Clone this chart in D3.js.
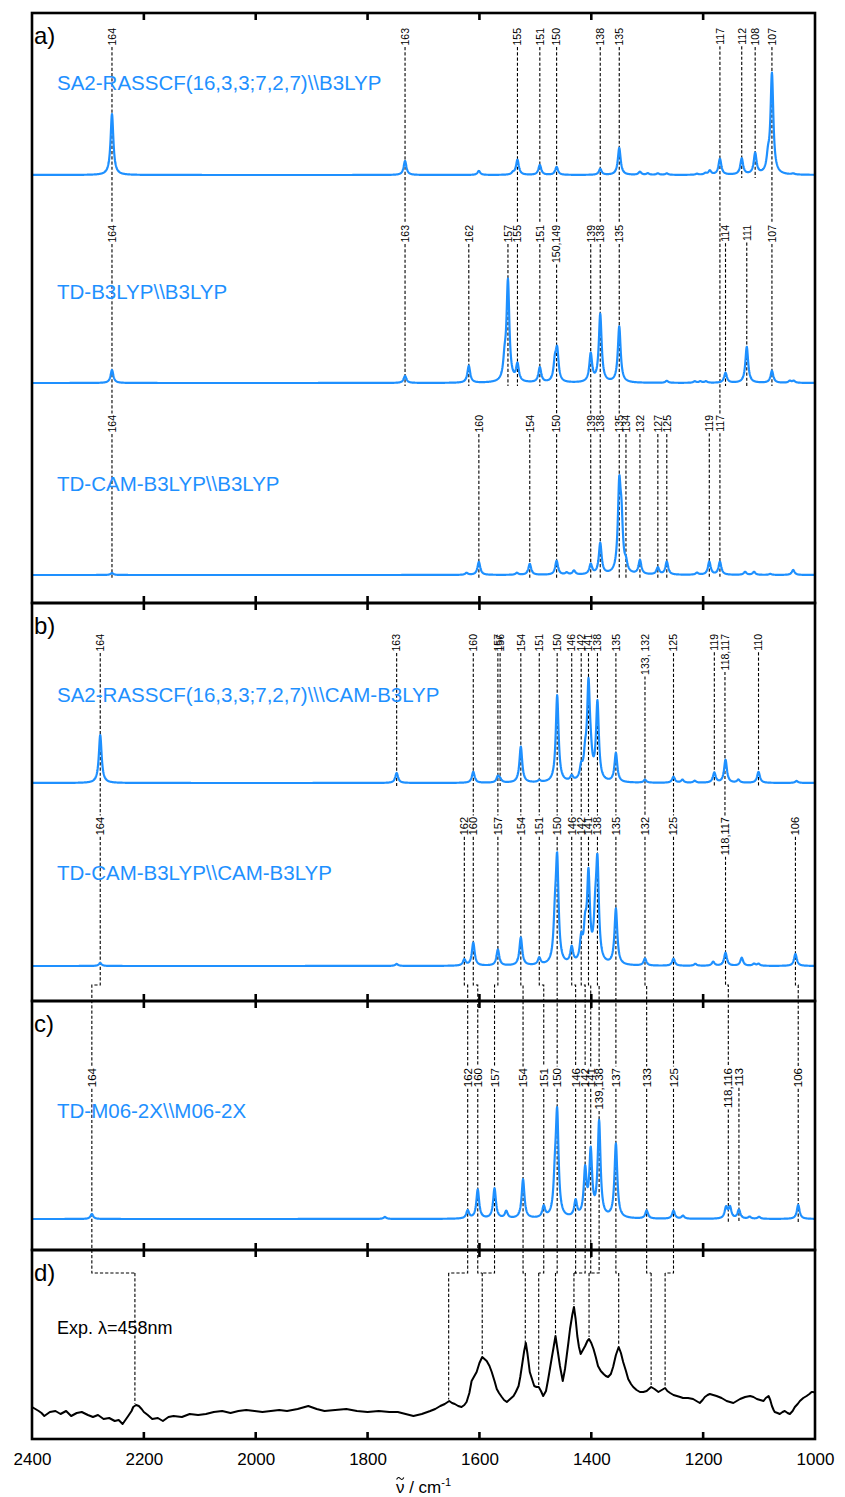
<!DOCTYPE html>
<html>
<head>
<meta charset="utf-8">
<script src="https://cdn.jsdelivr.net/npm/d3@7"></script>
<style>
  body { margin: 0; background: #fff; }
  svg { display: block; }
  text { font-family: "Liberation Sans", Arial, Helvetica, sans-serif; }
</style>
</head>
<body>
<svg id="chart" width="845" height="1497"></svg>
<script>
// ---------- axis ----------
const xTicks = [2400, 2200, 2000, 1800, 1600, 1400, 1200, 1000];
const panelNames = ["a)", "b)", "c)", "d)"];

// ---------- method titles ----------
const titleA1 = "SA2-RASSCF(16,3,3;7,2,7)\\\\B3LYP";
const titleA2 = "TD-B3LYP\\\\B3LYP";
const titleA3 = "TD-CAM-B3LYP\\\\B3LYP";
const titleB1 = "SA2-RASSCF(16,3,3;7,2,7)\\\\\\CAM-B3LYP";
const titleB2 = "TD-CAM-B3LYP\\\\CAM-B3LYP";
const titleC  = "TD-M06-2X\\\\M06-2X";
const titleD  = "Exp. \u03bb=458nm";

// ---------- computed Raman lines: [wavenumber / cm-1, relative intensity] ----------
const peaksA1 = [[2257,61],[1733,14],[1601,4],[1540,2],[1532,15],[1492,10],[1462,8],[1384,6],[1350,27],
  [1313,3],[1299,1.5],[1281,1.5],[1265,1.5],[1211,1],[1196,1.5],[1188,4],[1170,16],[1131,16],[1107,21],
  [1084,14],[1077,100],[1039,1]];
const peaksA2 = [[2257,13],[1733,7],[1619,17],[1555,18],[1549,100],[1532,17],[1492,15],[1465,18],[1461,30],
  [1401,28],[1384,68],[1350,56],[1265,2],[1215,1.5],[1205,1.5],[1195,1.5],[1160,10],[1122,36],[1077,12],
  [1045,2],[1038,2]];
const peaksA3 = [[2257,2],[1623,2],[1601,13],[1533,2],[1510,11],[1462,14],[1444,2],[1431,4],[1401,10],
  [1384,31],[1350,82],[1346,45],[1338,8],[1313,14],[1281,7],[1265,13],[1211,2],[1189,13],[1170,13],
  [1125,3],[1109,3],[1080,1],[1039,5]];
const peaksB1 = [[2278,48],[1748,10],[1611,11],[1567,6],[1563,3],[1526,36],[1493,2],[1461,87],[1435,5],
  [1418,12],[1411,20],[1405,92],[1401,15],[1389,78],[1356,29],[1304,3],[1253,6],[1237,3],[1215,2],
  [1180,10],[1160,23],[1137,3],[1101,11],[1033,2]];
const peaksB2 = [[2278,3],[1748,2],[1627,6],[1611,23],[1567,16],[1526,28],[1493,7],[1465,35],[1461,100],
  [1435,16],[1418,22],[1411,30],[1405,85],[1393,35],[1389,95],[1356,56],[1304,7],[1253,7],[1214,2],
  [1182,4],[1160,13],[1131,8],[1109,2],[1101,2],[1035,12]];
const peaksC  = [[2293,5],[1769,2],[1621,8],[1603,29],[1573,30],[1552,7],[1522,39],[1485,11],[1465,30],
  [1461,100],[1428,16],[1411,46],[1401,64],[1386,95],[1356,74],[1301,8],[1253,8],[1236,3],[1159,11],
  [1152,11],[1136,9],[1117,2],[1100,2],[1030,14]];

// ---------- mode assignments: [label, wavenumber / cm-1] ----------
const labelsA1 = [["164",2257],["163",1733],["155",1532],["151",1492],["150",1462],["138",1384],["135",1350],
  ["117",1170],["112",1131],["108",1107],["107",1077]];
const labelsA2 = [["164",2257],["163",1733],["162",1619],["157",1549],["155",1532],["151",1492],["150,149",1462],
  ["139",1401],["138",1384],["135",1350],["114",1160],["111",1122],["107",1077]];
const labelsA3 = [["164",2257],["160",1601],["154",1510],["150",1462],["139",1401],["138",1384],["135",1350],
  ["134",1338],["132",1313],["127",1281],["125",1265],["119",1189],["117",1170]];
const labelsB1 = [["164",2278],["163",1748],["160",1611],["157",1567],["156",1563],["154",1526],["151",1493],
  ["150",1461],["146",1435],["142",1418],["141",1405],["138",1389],["135",1356],["133, 132",1304],
  ["125",1253],["119",1180],["118,117",1161],["110",1101]];
const labelsB2 = [["164",2278],["162",1627],["160",1611],["157",1567],["154",1526],["151",1493],["150",1461],
  ["146",1435],["142",1418],["141",1405],["138",1389],["135",1356],["132",1304],["125",1253],
  ["118,117",1160],["106",1035]];
const labelsC  = [["164",2293],["162",1621],["160",1603],["157",1573],["154",1522],["151",1485],["150",1461],
  ["146",1428],["142",1411],["141",1401],["139,138",1386],["137",1356],["133",1301],["125",1253],
  ["118,116",1155],["113",1136],["106",1030]];

// correspondence CAM-B3LYP (b) -> M06-2X (c)
const linksBC = [["164","164"],["162","162"],["160","160"],["157","157"],["154","154"],["151","151"],
  ["150","150"],["146","146"],["142","142"],["141","141"],["138","139,138"],["135","137"],["132","133"],
  ["125","125"],["118,117","118,116"],["106","106"]];
// correspondence M06-2X (c) -> experimental band / cm-1
const linksCD = [["164",2216],["162",1655],["160",1595],["157",1595],["154",1518],["151",1494],["150",1464],
  ["146",1431],["142",1431],["141",1404],["139,138",1404],["137",1351],["133",1293],["125",1268]];

// ---------- experimental spectrum: [wavenumber / cm-1, intensity] ----------
const expSpectrum = [[2400,32],[2394,30],[2388,28],[2383,26],[2378,23],[2368,27],[2358,28],[2349,25],[2339,28],
  [2330,23],[2320,26],[2311,27],[2300,24],[2291,22],[2282,24],[2272,20],[2262,21],[2252,18],[2245,19],[2238,15],
  [2233,19],[2228,23],[2222,28],[2219,32],[2214,34],[2209,33],[2204,30],[2200,27],[2193,24],[2185,20],
  [2175,21],[2166,18],[2156,22],[2147,23],[2132,22],[2118,25],[2103,24],[2089,25],[2075,27],[2060,28],
  [2045,26],[2031,28],[2017,29],[2002,28],[1988,27],[1973,28],[1958,29],[1944,28],[1925,30],[1906,33],
  [1891,30],[1877,28],[1858,29],[1838,30],[1819,28],[1800,27],[1780,28],[1761,27],[1746,27],[1732,25],
  [1718,23],[1703,25],[1688,28],[1679,30],[1670,33],[1662,35],[1654,38],[1649,36],[1644,35],[1638,33],
  [1632,32],[1627,34],[1623,37],[1618,46],[1614,58],[1609,63],[1605,67],[1600,76],[1595,82],[1591,80],
  [1587,78],[1582,73],[1578,67],[1573,58],[1569,50],[1565,46],[1560,42],[1556,39],[1551,37],[1545,40],
  [1539,43],[1535,47],[1530,53],[1527,62],[1524,73],[1520,88],[1517,96],[1514,85],[1510,67],[1506,60],
  [1502,53],[1498,52],[1494,52],[1490,48],[1486,43],[1481,48],[1477,60],[1474,70],[1471,80],[1467,93],
  [1464,103],[1460,88],[1456,73],[1453,64],[1451,58],[1447,70],[1444,83],[1441,96],[1438,110],[1434,124],
  [1431,132],[1428,120],[1425,103],[1422,92],[1419,85],[1415,89],[1411,93],[1407,98],[1404,100],[1400,96],
  [1396,90],[1392,82],[1388,73],[1383,68],[1378,65],[1374,63],[1370,62],[1365,65],[1361,72],[1356,84],
  [1351,92],[1347,86],[1343,77],[1338,68],[1334,60],[1329,55],[1325,52],[1319,49],[1313,47],[1307,47],
  [1301,48],[1297,50],[1293,52],[1287,50],[1280,47],[1274,49],[1268,51],[1264,48],[1259,46],[1253,44],
  [1247,43],[1241,42],[1236,41],[1227,41],[1218,40],[1212,38],[1206,36],[1201,39],[1197,42],[1192,44],
  [1188,45],[1182,44],[1176,43],[1167,41],[1158,38],[1152,37],[1146,36],[1140,38],[1134,40],[1125,42],
  [1116,43],[1110,42],[1104,40],[1098,39],[1092,38],[1088,41],[1083,43],[1080,39],[1077,33],[1074,29],
  [1072,27],[1067,26],[1063,25],[1058,27],[1054,28],[1049,26],[1045,25],[1040,28],[1036,32],[1031,35],
  [1027,38],[1021,41],[1015,43],[1010,45],[1006,47],[1003,47],[1000,46]];

// ---------- layout ----------
const X0 = 32, X1 = 815;
const panelY = [13, 603, 1001, 1250, 1439];
const LINE_W = 3.0;   // HWHM of the Lorentzian line shape / cm-1
const BLUE = "#1e90ff";

const rows = [
  { panel: 0, title: titleA1, peaks: peaksA1, labels: labelsA1, base: 175, labelTop: 28,   titleY: 90,   fs: 10.5 },
  { panel: 0, title: titleA2, peaks: peaksA2, labels: labelsA2, base: 383, labelTop: 225,  titleY: 299,  fs: 10.5 },
  { panel: 0, title: titleA3, peaks: peaksA3, labels: labelsA3, base: 575, labelTop: 415,  titleY: 491,  fs: 10.5 },
  { panel: 1, title: titleB1, peaks: peaksB1, labels: labelsB1, base: 783, labelTop: 634,  titleY: 702,  fs: 10.5 },
  { panel: 1, title: titleB2, peaks: peaksB2, labels: labelsB2, base: 966, labelTop: 817,  titleY: 880,  fs: 11 },
  { panel: 2, title: titleC,  peaks: peaksC,  labels: labelsC,  base: 1219, labelTop: 1068, titleY: 1118, fs: 11.5 }
];
const KINK_BC = 985, KINK_CD = 1273;

const svg = d3.select("#chart");
const x = d3.scaleLinear().domain([2400, 1000]).range([X0, X1]);
rows.forEach(r => { r.y = d3.scaleLinear().domain([0, 100]).range([r.base, r.base - 100]); });
const yExp = d3.scaleLinear().domain([0, 100]).range([panelY[4], panelY[4] - 100]);

// Lorentzian-broadened stick spectrum
const grid = d3.range(2400, 999.75, -0.5);
function broaden(peaks) {
  const g2 = LINE_W * LINE_W;
  return grid.map(w => [w, d3.sum(peaks, p => p[1] * g2 / ((w - p[0]) ** 2 + g2))]);
}
const expByWn = expSpectrum.slice().sort((a, b) => a[0] - b[0]);
function expAt(w) {
  const i = d3.bisector(d => d[0]).left(expByWn, w);
  if (i <= 0) return expByWn[0][1];
  if (i >= expByWn.length) return expByWn[expByWn.length - 1][1];
  const a = expByWn[i - 1], b = expByWn[i];
  return a[1] + (b[1] - a[1]) * (w - a[0]) / (b[0] - a[0]);
}

const gLines = svg.append("g").attr("fill", "none").attr("stroke", "#000")
  .attr("stroke-width", 1.1).attr("stroke-dasharray", "3.2,2");
const gSpec = svg.append("g");
const gText = svg.append("g");

// ---------- mode labels (rotated) ----------
rows.forEach(r => {
  r.lab = r.labels.map(([t, w]) => {
    const el = gText.append("text")
      .attr("transform", `translate(${x(w)},${r.labelTop}) rotate(-90)`)
      .attr("text-anchor", "end").attr("dy", "0.36em")
      .attr("font-size", r.fs).attr("fill", "#000").text(t);
    const len = el.node().getComputedTextLength();
    return { t, w, nums: t.split(/[, ]+/).filter(s => s), top: r.labelTop - 1.5, bottom: r.labelTop + len + 1.5 };
  });
});

// ---------- dashed assignment lines ----------
const shares = (a, b) => a.nums.some(n => b.nums.includes(n));
const expTargets = new Set();
rows.forEach((r, ri) => {
  r.lab.forEach(L => {
    const xs = x(L.w);
    // continuation to the next row of the same panel that carries this mode
    let target = null;
    for (let k = ri + 1; k < rows.length && rows[k].panel === r.panel; k++) {
      const m = rows[k].lab.find(o => shares(L, o));
      if (m) { target = m; break; }
    }
    const path = d3.path();
    path.moveTo(xs, L.bottom);
    const bc = linksBC.find(l => l[0] === L.t);
    const cd = linksCD.find(l => l[0] === L.t);
    if (target) {
      path.lineTo(xs, target.top);
    } else if (r.panel === 1 && bc) {
      const cLab = rows[5].lab.find(o => o.t === bc[1]);
      path.lineTo(xs, KINK_BC);
      path.lineTo(x(cLab.w), KINK_BC);
      path.lineTo(x(cLab.w), cLab.top);
    } else if (r.panel === 2 && cd) {
      path.lineTo(xs, KINK_CD);
      path.lineTo(x(cd[1]), KINK_CD);
      expTargets.add(cd[1]);
    } else {
      path.lineTo(xs, r.base + 3);
    }
    gLines.append("path").attr("d", path.toString());
  });
});
// one drop line per experimental band
expTargets.forEach(we => {
  gLines.append("line").attr("x1", x(we)).attr("x2", x(we))
    .attr("y1", KINK_CD).attr("y2", yExp(expAt(we)) - 2);
});

// ---------- computed spectra ----------
rows.forEach(r => {
  const line = d3.line().x(d => x(d[0])).y(d => r.y(d[1]));
  gSpec.append("path").datum(broaden(r.peaks)).attr("d", line)
    .attr("fill", "none").attr("stroke", BLUE).attr("stroke-width", 2.2).attr("stroke-linejoin", "round");
  gText.append("text").attr("x", 57).attr("y", r.titleY).attr("font-size", 20.5)
    .attr("fill", BLUE).text(r.title);
});

// ---------- experimental spectrum ----------
gSpec.append("path").datum(expSpectrum)
  .attr("d", d3.line().x(d => x(d[0])).y(d => yExp(d[1])))
  .attr("fill", "none").attr("stroke", "#000").attr("stroke-width", 2).attr("stroke-linejoin", "round");
gText.append("text").attr("x", 57).attr("y", 1334).attr("font-size", 18).attr("fill", "#000").text(titleD);

// ---------- frames and ticks ----------
const gFrame = svg.append("g");
for (let p = 0; p < 4; p++) {
  const y0 = panelY[p], y1 = panelY[p + 1];
  gFrame.append("rect").attr("x", X0).attr("y", y0).attr("width", X1 - X0).attr("height", y1 - y0)
    .attr("fill", "none").attr("stroke", "#000").attr("stroke-width", 2.6);
  const inner = xTicks.slice(1, -1);
  gFrame.selectAll(null).data(inner).enter().append("line")
    .attr("x1", d => x(d)).attr("x2", d => x(d)).attr("y1", y0).attr("y2", y0 + 7)
    .attr("stroke", "#000").attr("stroke-width", 2.6);
  gFrame.selectAll(null).data(inner).enter().append("line")
    .attr("x1", d => x(d)).attr("x2", d => x(d)).attr("y1", y1).attr("y2", y1 - 7)
    .attr("stroke", "#000").attr("stroke-width", 2.6);
  gFrame.append("text").attr("x", 34).attr("y", y0 + 31).attr("font-size", 24).attr("fill", "#000")
    .text(panelNames[p]);
}

// x axis labels
const axis = d3.axisBottom(x).tickValues(xTicks).tickSize(0).tickPadding(14).tickFormat(d3.format("d"));
const gAxis = svg.append("g").attr("transform", `translate(0,${panelY[4]})`).call(axis);
gAxis.select(".domain").remove();
gAxis.selectAll("text").attr("font-size", 17).attr("fill", "#000")
  .attr("font-family", "'Liberation Sans', Arial, sans-serif");

// axis title: wavenumber symbol nu, with the tilde accent drawn as a small stroke
const title = svg.append("text").attr("x", (X0 + X1) / 2).attr("y", 1493).attr("text-anchor", "middle")
  .attr("font-size", 17).attr("fill", "#000");
title.append("tspan").text("\u03bd / cm");
title.append("tspan").attr("dy", -7).attr("font-size", 11).text("-1");
const nuBox = title.node().getExtentOfChar(0);
const tx = nuBox.x + nuBox.width / 2, ty = 1478.5;
const tilde = d3.path();
tilde.moveTo(tx - 3.6, ty + 1);
tilde.bezierCurveTo(tx - 2.4, ty - 1.6, tx - 1, ty - 1.2, tx, ty);
tilde.bezierCurveTo(tx + 1, ty + 1.2, tx + 2.4, ty + 1.6, tx + 3.6, ty - 1);
svg.append("path").attr("d", tilde.toString()).attr("fill", "none").attr("stroke", "#000").attr("stroke-width", 1.1);
</script>
</body>
</html>
